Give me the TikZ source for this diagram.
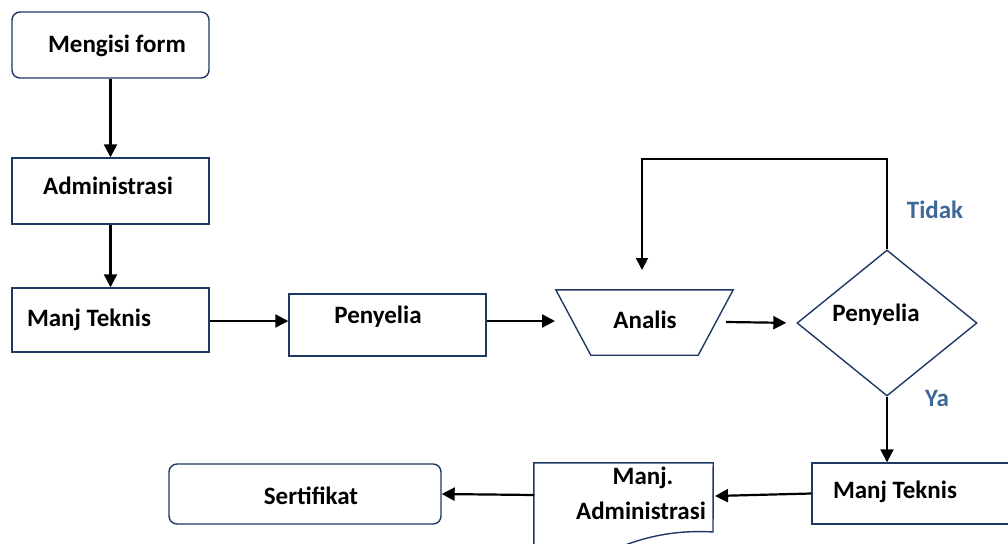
\documentclass[tikz,border=0pt]{standalone}
\usepackage{fontspec}
\setmainfont{Carlito}
\usetikzlibrary{shapes.geometric,arrows.meta}
\definecolor{boxline}{RGB}{32,56,100}
\definecolor{labelblue}{RGB}{62,104,152}
\tikzset{
  box/.style={draw=boxline, line width=1.4pt, minimum width=197pt,
    minimum height=66pt, inner sep=0pt},
  rbox/.style={box, rounded corners=8pt},
  txt/.style={font=\fontsize{25}{30}\selectfont\bfseries, inner sep=0pt},
  lbl/.style={txt, text=labelblue},
  arr/.style={line width=2.2pt, -{Triangle[length=13pt,width=13pt]}},
  looparr/.style={line width=1.7pt, -{Triangle[length=12pt,width=12pt]}}
}
\begin{document}
\begin{tikzpicture}[x=1pt, y=-1pt]
  \clip (0,0) rectangle (1008,543);
  % left column
  \node [rbox] (form) at (110.5,45) {};
  \node [txt] (form-t) at (117,46) {Mengisi form};
  \node [box] (admin) at (110.5,191) {};
  \node [txt] (admin-t) at (108,186) {Administrasi};
  \node [box, minimum height=64pt] (mt1) at (110.5,320) {};
  \node [txt] (mt1-t) at (89,320) {Manj Teknis};
  % middle row
  \node [box, minimum height=62pt] (pen) at (387.5,325) {};
  \node [txt] (pen-t) at (378,317) {Penyelia};
  \node [minimum width=177pt, minimum height=65pt, inner sep=0pt]
    (analis) at (644.5,322.5) {};
  \draw [boxline, line width=1.4pt] (analis.north west) -- (analis.north east)
    -- ([xshift=-35pt]analis.south east) -- ([xshift=35pt]analis.south west)
    -- cycle;
  \node [txt] (analis-t) at (645,320) {Analis};
  \node [diamond, draw=boxline, line width=1.4pt, minimum width=180pt,
    minimum height=146pt, inner sep=0pt] (dia) at (887,323) {};
  \node [txt] (dia-t) at (876,315) {Penyelia};
  \node [lbl] (tidak) at (935,210) {Tidak};
  \node [lbl] (ya) at (937,398) {Ya};
  % bottom row
  \node [box, minimum width=218pt, minimum height=61pt] (mt2) at (921,493.5) {};
  \node [txt] (mt2-t) at (895,492) {Manj Teknis};
  \node [minimum width=179pt, minimum height=97pt, inner sep=0pt]
    (docu) at (623.5,511.5) {};
  \draw [boxline, line width=1.4pt] (docu.south west) -- (docu.north west)
    -- (docu.north east) -- (713,532)
    .. controls (680,530) and (650,535) .. (620,547);
  \node [txt] (docu-t1) at (643,478) {Manj.};
  \node [txt] (docu-t2) at (641,511) {Administrasi};
  \node [rbox, minimum width=272pt, minimum height=60pt] (sert) at (305,494) {};
  \node [txt] (sert-t) at (311,496) {Sertifikat};
  \coordinate (a-in) at (555,321);
  \coordinate (a-out) at (726,322);
  \coordinate (loop-end) at (642,270);
  \coordinate (d-east) at (715,496);
  \coordinate (d-west) at (534,495);
  % connectors
  \draw [arr] (form.south) -- (admin.north);
  \draw [arr] (admin.south) -- (mt1.north);
  \draw [arr] (mt1.east |- a-in) -- (pen.west |- a-in);
  \draw [arr] (pen.east |- a-in) -- (a-in);
  \draw [arr, shorten >=10pt] (a-out) -- (dia.west);
  \draw [looparr] (dia.north) -- (dia.north |- 0,159) -| (loop-end);
  \draw [arr] (dia.south) -- (dia.south |- mt2.north);
  \draw [arr] (mt2.west) -- (d-east);
  \draw [arr] (d-west) -- (sert.east);
\end{tikzpicture}
\end{document}
